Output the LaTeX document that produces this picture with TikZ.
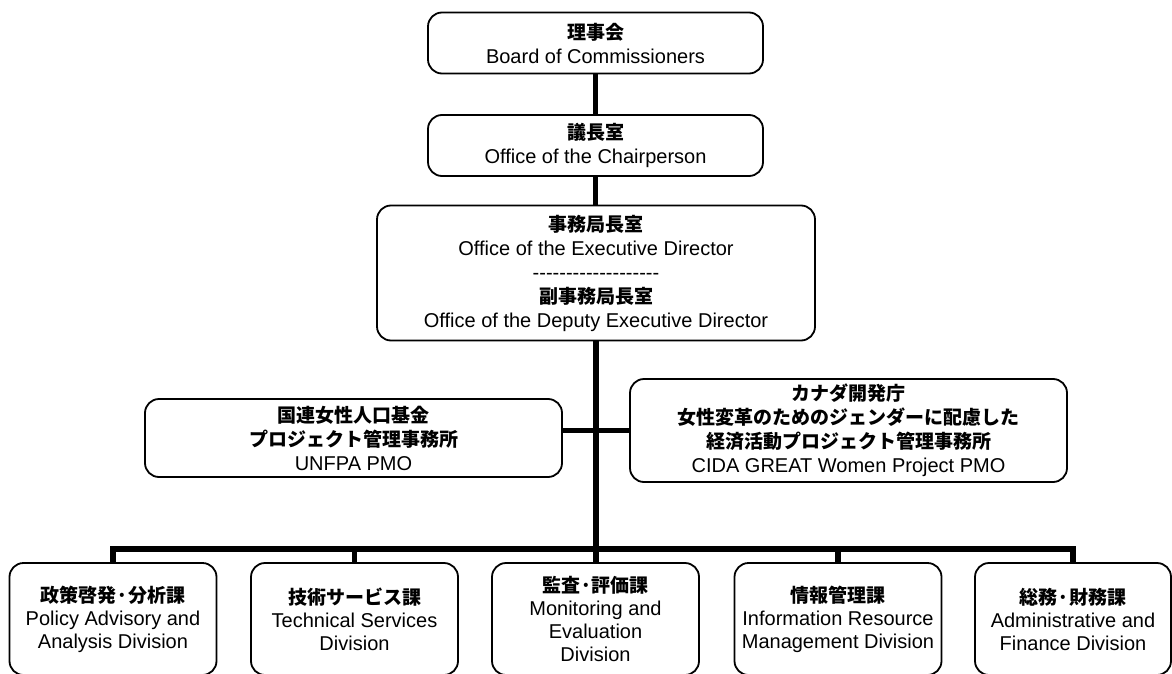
\documentclass[tikz,border=0pt]{standalone}
\usepackage{fontspec}
\setmainfont{Liberation Sans}
\newfontfamily\jp{Noto Sans CJK JP}
\newcommand\J[1]{{\jp\bfseries\fontsize{19}{24}\selectfont #1}}
\newcommand\hy{-\kern0pt}
\begin{document}
\begin{tikzpicture}[x=1pt,y=-1pt,
  box/.style={draw, line width=1.8pt, rounded corners=14pt, align=center, inner sep=0pt, fill=white,
    font=\fontsize{20}{24}\selectfont},
  divbox/.style={box, minimum width=207pt, minimum height=112pt, font=\fontsize{20}{23}\selectfont},
  link/.style={line width=5.5pt, line join=miter}]
\useasboundingbox (0,0) rectangle (1172,674);

\node[box, minimum width=335pt, minimum height=61pt] (board) at (595.5,43) {\J{理事会}\\Board of Commissioners};
\node[box, minimum width=335pt, minimum height=61pt] (chair) at (595.5,145.5) {\J{議長室}\\Office of the Chairperson};
\node[box, minimum width=438pt, minimum height=135pt] (exec) at (596,273)
  {\J{事務局長室}\\Office of the Executive Director\\\hy\hy\hy\hy\hy\hy\hy\hy\hy\hy\hy\hy\hy\hy\hy\hy\hy\hy\hy\\\J{副事務局長室}\\Office of the Deputy Executive Director};
\node[box, minimum width=417pt, minimum height=78pt] (unfpa) at (353.5,438)
  {\J{国連女性人口基金}\\\J{プロジェクト管理事務所}\\UNFPA PMO};
\node[box, minimum width=437pt, minimum height=103pt] (cida) at (848.5,430.5)
  {\J{カナダ開発庁}\\\J{女性変革のためのジェンダーに配慮した}\\\J{経済活動プロジェクト管理事務所}\\CIDA GREAT Women Project PMO};

\node[divbox] (d1) at (113,619) {\J{政策啓発·分析課}\\Policy Advisory and\\Analysis Division};
\node[divbox] (d2) at (354.5,619) {\J{技術サービス課}\\Technical Services\\Division};
\node[divbox] (d3) at (595.5,619) {\J{監査·評価課}\\Monitoring and\\Evaluation\\Division};
\node[divbox] (d4) at (838,619) {\J{情報管理課}\\Information Resource\\Management Division};
\node[divbox, minimum width=196pt] (d5) at (1073,619) {\J{総務·財務課}\\Administrative and\\Finance Division};

\coordinate (bar) at (596,549);

\draw[link] (board.south) -- (chair.north);
\draw[link] (chair.south) -- (chair.south |- exec.north);
\draw[link] (exec.south) -- (d3.north -| exec.south);
\draw[link] (unfpa.east |- cida.west) -- (cida.west);
\draw[link] (d1.north) -- (d1.north |- bar) -- (d5.north |- bar) -- (d5.north);
\draw[link] (d2.north) -- (d2.north |- bar);
\draw[link] (d4.north) -- (d4.north |- bar);
\end{tikzpicture}
\end{document}
